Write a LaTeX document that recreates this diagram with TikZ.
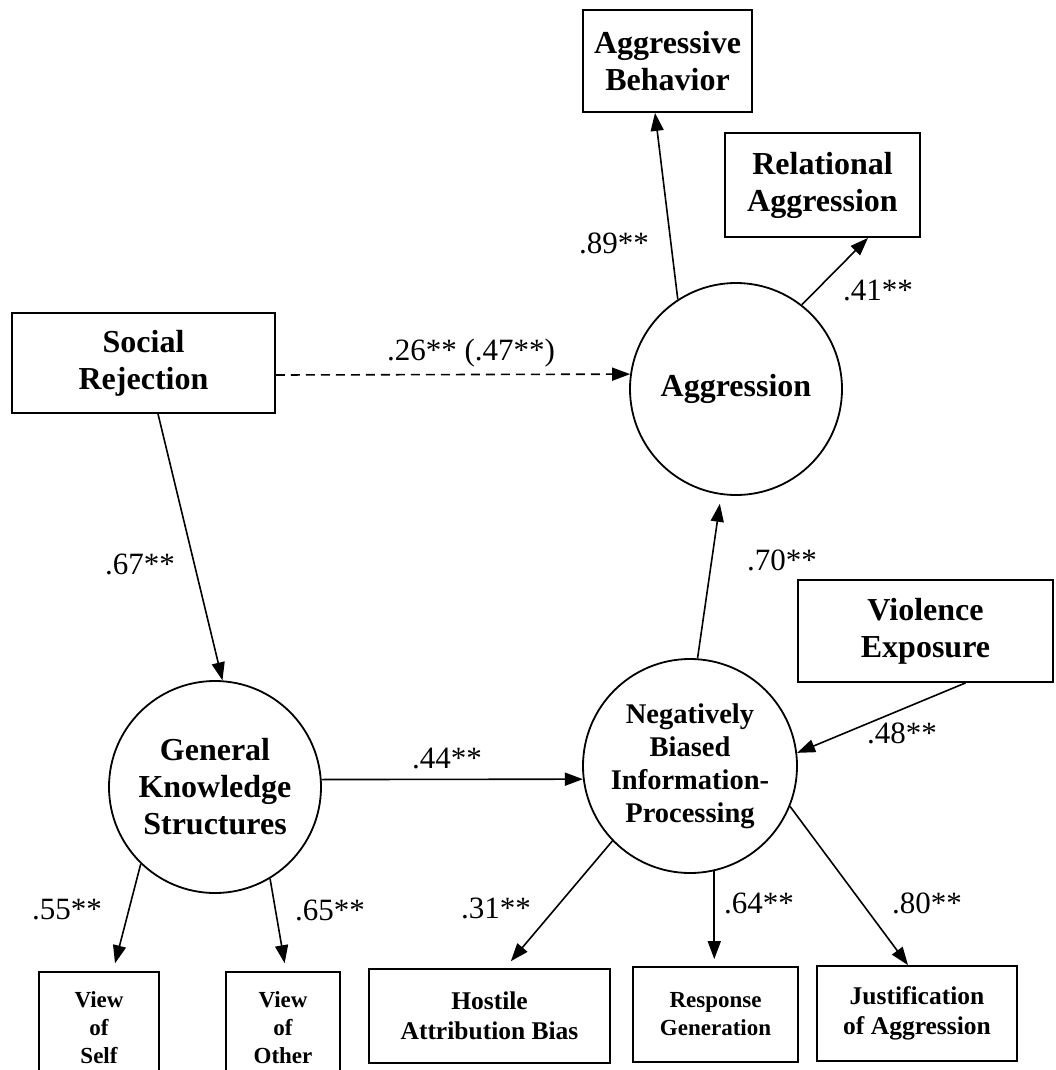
\documentclass[tikz,border=0pt]{standalone}
\usepackage{fontspec}
\setmainfont{Liberation Serif}
\usetikzlibrary{arrows.meta,calc}
\begin{document}
\begin{tikzpicture}[x=1pt,y=-1pt,
  box/.style={draw,line width=1.8pt,inner sep=0pt,align=center,font=\bfseries\fontsize{32}{37}\selectfont},
  smallbox/.style={box,font=\bfseries\fontsize{25.5}{30}\selectfont},
  tinybox/.style={box,font=\bfseries\fontsize{23}{28}\selectfont},
  latent/.style={draw,circle,line width=1.8pt,inner sep=0pt,align=center,font=\bfseries\fontsize{32}{37}\selectfont},
  path/.style={line width=1.6pt,-{Triangle[length=18pt,width=13pt]}},
  coef/.style={font=\fontsize{31}{36}\selectfont,inner sep=0pt}]
\useasboundingbox (0,0) rectangle (1055,1070);
% boxes
\node[box,minimum width=169pt,minimum height=102pt] (ab) at (667.5,61) {Aggressive\\Behavior};
\node[box,minimum width=195pt,minimum height=104pt] (ra) at (822.5,185) {Relational\\Aggression};
\node[box,minimum width=263pt,minimum height=100pt] (sr) at (143.5,363) {Social\\Rejection};
\node[box,minimum width=255pt,minimum height=102pt] (ve) at (925.5,631) {Violence\\Exposure};
\node[tinybox,minimum width=120pt,minimum height=112pt] (vs) at (99,1028) {View\\of\\Self};
\node[tinybox,minimum width=114pt,minimum height=112pt] (vo) at (283,1028) {View\\of\\Other};
\node[smallbox,minimum width=241pt,minimum height=94pt] (hab) at (489.5,1016) {Hostile\\Attribution Bias};
\node[tinybox,minimum width=165pt,minimum height=95pt] (rg) at (715.5,1014.5) {Response\\Generation};
\node[smallbox,minimum width=200pt,minimum height=95pt] (ja) at (917,1013.5) {Justification\\of Aggression};
% latent variables
\node[latent,minimum size=212pt] (agg) at (736,389) {Aggression};
\node[latent,minimum size=212pt] (gks) at (215,787) {General\\Knowledge\\Structures};
\node[latent,minimum size=214pt,font=\bfseries\fontsize{28.5}{33}\selectfont] (nbip) at (690,766) {Negatively\\Biased\\Information-\\Processing};
% paths
\draw[path] ($(sr.south)+(14.5,0)$) -- (gks.86);
\draw[path,dash pattern=on 9pt off 6pt] ($(sr.east)+(0,12)$) -- (agg.172.4);
\draw[path] (gks.4) -- (nbip.187.5);
\draw[path,shorten >=9pt] (nbip.86) -- (agg.262.5);
\draw[path] ($(ve.south)+(40,0)$) -- (nbip.7.5);
\draw[path] (agg.123) -- ($(ab.south)+(-12.5,0)$);
\draw[path] (agg.52.5) -- ($(ra.south)+(45.5,0)$);
\draw[path,shorten >=8pt] (gks.226) -- ($(vs.north)+(14,0)$);
\draw[path,shorten >=8pt] (gks.301) -- ($(vo.north)+(3,0)$);
\draw[path,shorten >=9pt] (nbip.224) -- ($(hab.north)+(15.5,0)$);
\draw[path,shorten >=7pt] (nbip.283.5) -- (nbip.283.5 |- rg.north);
\draw[path] (nbip.338) -- ($(ja.north)+(-9,0)$);
% coefficients
\node[coef] (c1) at (140,564) {.67**};
\node[coef] (c2) at (471,353) {.26** (.47**)};
\node[coef] (c3) at (447,759) {.44**};
\node[coef] (c4) at (782,560) {.70**};
\node[coef] (c5) at (902,733) {.48**};
\node[coef] (c6) at (614,243) {.89**};
\node[coef] (c7) at (878,290) {.41**};
\node[coef] (c8) at (67,910) {.55**};
\node[coef] (c9) at (330,910) {.65**};
\node[coef] (c10) at (496,908) {.31**};
\node[coef] (c11) at (759,903) {.64**};
\node[coef] (c12) at (927,903) {.80**};
\end{tikzpicture}
\end{document}
